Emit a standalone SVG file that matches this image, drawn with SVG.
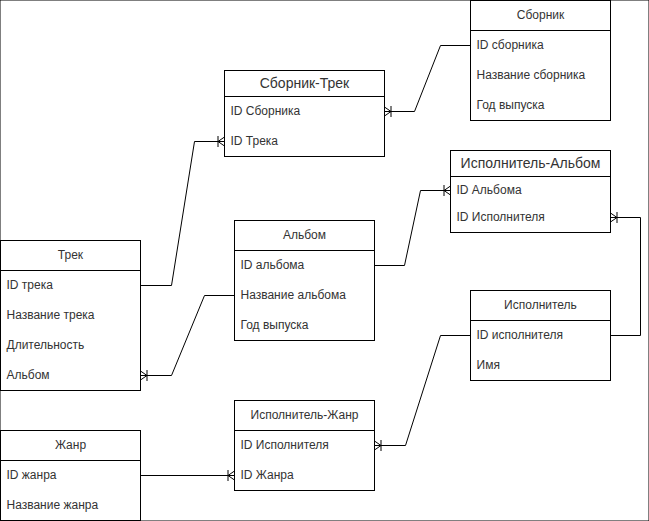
<svg xmlns="http://www.w3.org/2000/svg" width="649" height="521" viewBox="0 0 649 521">
<defs>
<marker id="many" markerUnits="userSpaceOnUse" markerWidth="20" markerHeight="20" refX="10" refY="10" orient="auto" viewBox="0 0 20 20" overflow="visible">
<path d="M10,5.5 L3.5,10 L10,14.5 M3.5,4.5 L3.5,15.5" fill="none" stroke="#000" stroke-width="1"/>
</marker>
</defs>
<style>
rect{fill:#fff;stroke:#000;stroke-width:1}
.sep{stroke:#000;stroke-width:1}
text{font-family:"Liberation Sans",Arial,sans-serif;font-size:12px;fill:#333}
.h{text-anchor:middle}
.big{font-size:14px}
.c{fill:none;stroke:#000;stroke-width:1}
</style>
<rect width="649" height="521" fill="#fff" stroke="none"/>
<g id="connectors">
<path class="c" d="M470.5,45.5 H440.5 L414.5,111.5 H384.5" marker-end="url(#many)"/>
<path class="c" d="M140.5,285.5 H171.5 L194.5,141.5 H224.5" marker-end="url(#many)"/>
<path class="c" d="M234.5,295.5 H204.5 L171.5,375.5 H140.5" marker-end="url(#many)"/>
<path class="c" d="M374.5,265.5 H404.5 L420.5,190.5 H450.5" marker-end="url(#many)"/>
<path class="c" d="M610.5,335.5 H640.5 V217.5 H610.5" marker-end="url(#many)"/>
<path class="c" d="M470.5,335.5 H440.5 L405.5,445.5 H374.5" marker-end="url(#many)"/>
<path class="c" d="M140.5,475.5 H234.5" marker-end="url(#many)"/>
</g>
<g id="sbornik">
<rect x="470.5" y="0.5" width="140" height="120"/>
<line class="sep" x1="470.5" y1="30.5" x2="610.5" y2="30.5"/>
<text class="h" x="540.5" y="19">Сборник</text>
<text x="476.5" y="49">ID сборника</text>
<text x="476.5" y="79">Название сборника</text>
<text x="476.5" y="109">Год выпуска</text>
</g>
<g id="sbornik-trek">
<rect x="224.5" y="70.5" width="160" height="86"/>
<line class="sep" x1="224.5" y1="96.5" x2="384.5" y2="96.5"/>
<text class="h big" x="304.5" y="88">Сборник-Трек</text>
<text x="230.5" y="114.5">ID Сборника</text>
<text x="230.5" y="144.5">ID Трека</text>
</g>
<g id="ispolnitel-albom">
<rect x="450.5" y="150.5" width="160" height="82"/>
<line class="sep" x1="450.5" y1="176.5" x2="610.5" y2="176.5"/>
<text class="h big" x="530.5" y="168">Исполнитель-Альбом</text>
<text x="456.5" y="193.5">ID Альбома</text>
<text x="456.5" y="220.5">ID Исполнителя</text>
</g>
<g id="albom">
<rect x="234.5" y="220.5" width="140" height="120"/>
<line class="sep" x1="234.5" y1="250.5" x2="374.5" y2="250.5"/>
<text class="h" x="304.5" y="239">Альбом</text>
<text x="240.5" y="269">ID альбома</text>
<text x="240.5" y="299">Название альбома</text>
<text x="240.5" y="329">Год выпуска</text>
</g>
<g id="trek">
<rect x="0.5" y="240.5" width="140" height="150"/>
<line class="sep" x1="0.5" y1="270.5" x2="140.5" y2="270.5"/>
<text class="h" x="70.5" y="259">Трек</text>
<text x="6.5" y="289">ID трека</text>
<text x="6.5" y="319">Название трека</text>
<text x="6.5" y="349">Длительность</text>
<text x="6.5" y="379">Альбом</text>
</g>
<g id="ispolnitel">
<rect x="470.5" y="290.5" width="140" height="90"/>
<line class="sep" x1="470.5" y1="320.5" x2="610.5" y2="320.5"/>
<text class="h" x="540.5" y="309">Исполнитель</text>
<text x="476.5" y="339">ID исполнителя</text>
<text x="476.5" y="369">Имя</text>
</g>
<g id="ispolnitel-zhanr">
<rect x="234.5" y="400.5" width="140" height="90"/>
<line class="sep" x1="234.5" y1="430.5" x2="374.5" y2="430.5"/>
<text class="h" x="304.5" y="419">Исполнитель-Жанр</text>
<text x="240.5" y="449">ID Исполнителя</text>
<text x="240.5" y="479">ID Жанра</text>
</g>
<g id="zhanr">
<rect x="0.5" y="430.5" width="140" height="90"/>
<line class="sep" x1="0.5" y1="460.5" x2="140.5" y2="460.5"/>
<text class="h" x="70.5" y="449">Жанр</text>
<text x="6.5" y="479">ID жанра</text>
<text x="6.5" y="509">Название жанра</text>
</g>
</svg>
